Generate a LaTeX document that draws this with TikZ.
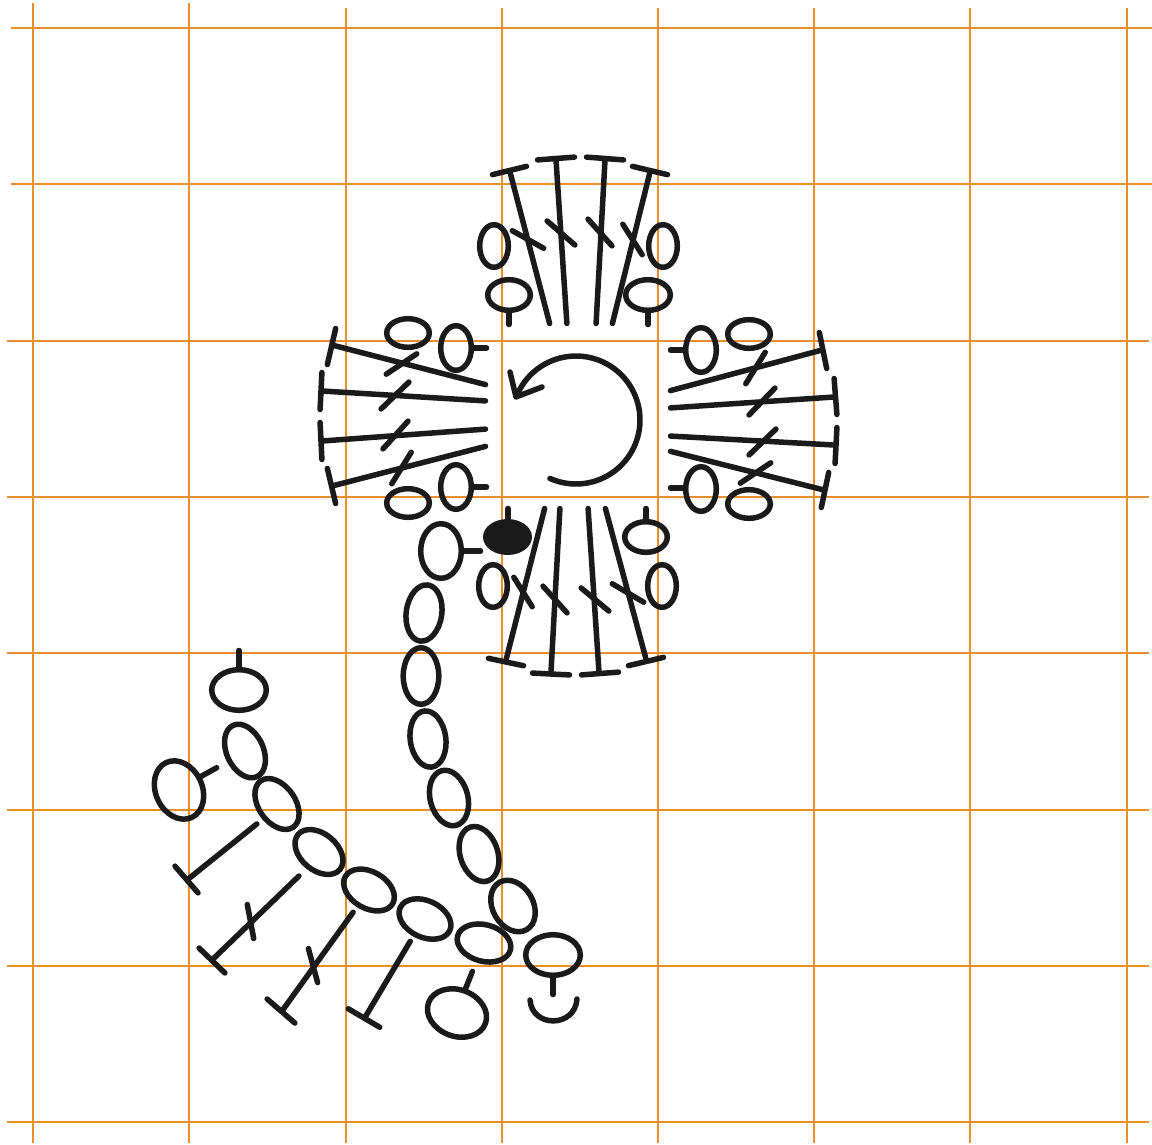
\documentclass[tikz,border=0pt]{standalone}
\definecolor{gridc}{HTML}{E88E2C}
\definecolor{ink}{HTML}{1A1A1A}
\tikzset{
  gridline/.style={draw=gridc,line width=2pt},
  st/.style={draw=ink,line width=5.5pt,line cap=round,line join=round},
  sg/.style={st,shorten <=1.5pt,shorten >=1.5pt},
}
% ov: x, y, rx, ry, rotation
\newcommand{\ov}[5]{\draw[st,shift={(#1,#2)},rotate=#5] (0,0) ellipse (#3+0.3 and #4+0.3);}
\newcommand{\seg}[4]{\draw[sg] (#1,#2) -- (#3,#4);}
\begin{document}
\begin{tikzpicture}[x=1pt,y=-1pt]
\useasboundingbox (0,0) rectangle (1152,1144);
% grid
\foreach \gx/\gs in {33/3,189/3,346/8,502/8,658/8,814/8,970/8,1127/8}{\draw[gridline] (\gx,\gs) -- (\gx,1143);}
\foreach \gy/\gs/\ge in {28/11/1152,184/11/1152,341/7/1149,497/7/1149,653/7/1149,810/7/1149,966/7/1149,1122/7/1149}{\draw[gridline] (\gs,\gy) -- (\ge,\gy);}
% centre arrow
\draw[st] plot[domain=114:-155,samples=70,smooth] ({576+64*cos(\x)},{420+64*sin(\x)});
\draw[st] (510,372) -- (516,397) -- (542,387);
% top fan
\seg{550}{325}{510}{172}\seg{491}{175}{528}{166}
\seg{567}{325}{556}{160}\seg{536}{160}{576}{157}
\seg{596}{325}{605}{160}\seg{585}{157}{625}{160}
\seg{612}{325}{650}{172}\seg{631}{166}{669}{175}
\seg{511}{230}{545}{249}\seg{546}{220}{576}{246}\seg{587}{218}{613}{247}\seg{622}{223}{643}{256}
\ov{494}{246}{14}{21}{0}\ov{663}{246}{14}{21}{0}
\ov{509}{295}{21}{15}{0}\seg{509}{310}{509}{326}
\ov{648}{295}{22}{15}{0}\seg{648}{310}{648}{326}
% left fan
\seg{487}{385}{332}{345}\seg{336}{327}{327}{366}
\seg{487}{401}{322}{391}\seg{322}{371}{320}{411}
\seg{487}{429}{322}{441}\seg{320}{421}{322}{461}
\seg{487}{446}{332}{486}\seg{327}{467}{336}{505}
\seg{418}{353}{385}{375}\seg{410}{381}{380}{410}\seg{409}{420}{382}{450}\seg{412}{451}{391}{485}
\ov{408}{333}{21}{14}{0}\ov{456}{348}{15}{22}{0}\seg{471}{348}{488}{348}
\ov{456}{487}{15}{22}{0}\seg{471}{487}{488}{487}\ov{408}{503}{21}{14}{0}
% right fan
\seg{669}{391}{822}{350}\seg{819}{331}{827}{370}
\seg{669}{408}{834}{397}\seg{834}{377}{837}{416}
\seg{669}{436}{834}{445}\seg{837}{426}{835}{465}
\seg{669}{451}{824}{490}\seg{829}{471}{821}{509}
\seg{766}{351}{745}{385}\seg{776}{387}{748}{416}\seg{777}{428}{748}{456}\seg{772}{462}{739}{484}
\ov{749}{334}{21}{14}{0}\ov{701}{350}{15}{22}{0}\seg{669}{350}{686}{350}
\ov{701}{489}{15}{22}{0}\seg{669}{488}{686}{488}\ov{749}{504}{21}{14}{0}
% bottom fan
\seg{545}{507}{506}{660}\seg{487}{658}{525}{666}
\seg{560}{507}{551}{672}\seg{531}{673}{571}{675}
\seg{588}{507}{599}{672}\seg{580}{675}{620}{672}
\seg{605}{507}{646}{659}\seg{627}{666}{665}{657}
\seg{513}{576}{533}{608}\seg{542}{585}{568}{614}\seg{580}{587}{610}{612}\seg{611}{583}{645}{603}
\ov{493}{586}{14}{21}{0}\ov{662}{586}{14}{21}{0}
\draw[st,fill=ink] (507.5,537) ellipse (21.7 and 15.2);\seg{508}{507}{508}{520}
\ov{646}{537}{21}{15}{0}\seg{646}{507}{646}{522}
% chain
\ov{441}{551}{20}{27}{0}\seg{463}{551}{482}{551}
\ov{424}{613}{17.5}{28}{-8}
\ov{421}{676}{17.5}{28}{0}
\ov{428}{739}{17.5}{28}{8}
\ov{449}{798}{18.5}{28}{15}
\ov{479}{854}{18.5}{28}{18}
\ov{513}{906}{20}{27}{30}
\ov{553}{955}{27}{20}{0}\seg{553}{976}{553}{996}
\draw[st] (530,1000) .. controls (532,1028) and (575,1028) .. (577,999);
\ov{484}{943}{27}{18}{-15}
\ov{425}{919}{27}{18}{-25}
\ov{369}{890}{27}{18}{-30}
\ov{319}{852}{27}{18}{-40}
\ov{277}{804}{28}{18}{-55}
\ov{245}{751}{28}{18}{-65}
\ov{239}{690}{27}{20}{0}\seg{239}{669}{239}{649}
\ov{179}{790}{30}{23}{-65}\seg{200}{777}{218}{767}
\ov{457}{1013}{30}{23}{-20}\seg{465}{990}{473}{970}
% tall stitches
\seg{258}{823}{187}{880}\seg{174}{865}{199}{894}
\seg{300}{875}{212}{960}\seg{198}{947}{226}{974}\seg{247}{903}{254}{940}
\seg{354}{911}{282}{1011}\seg{266}{998}{296}{1024}\seg{308}{947}{318}{984}
\seg{411}{940}{364}{1019}\seg{347}{1008}{381}{1028}
\end{tikzpicture}
\end{document}
